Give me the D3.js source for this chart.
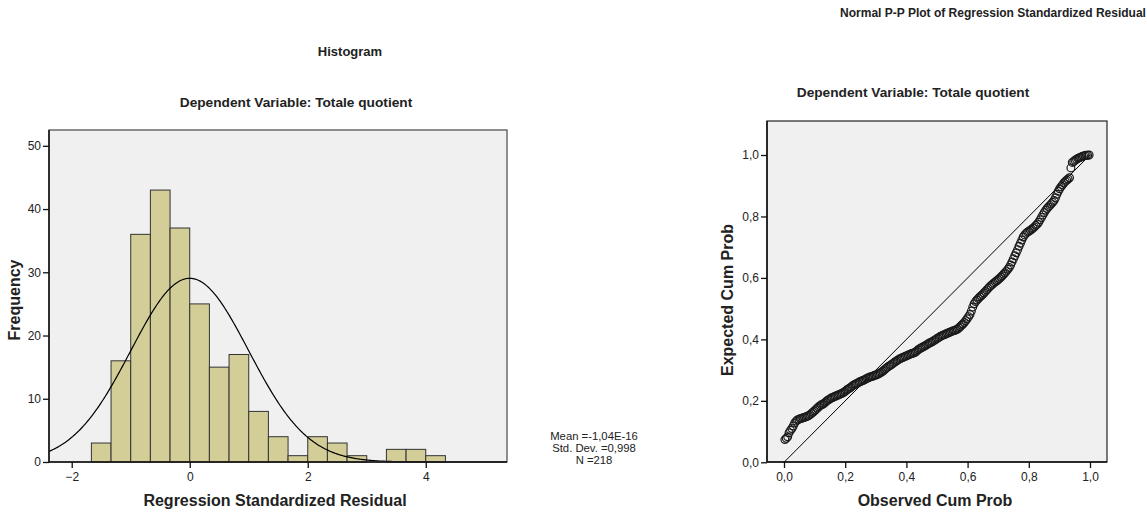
<!DOCTYPE html>
<html><head><meta charset="utf-8">
<script src="https://cdn.jsdelivr.net/npm/d3@7"></script>
<style>
body{margin:0;background:#fff;}
svg{display:block;font-family:"Liberation Sans",Arial,sans-serif;}
</style></head><body>
<svg id="c" width="1147" height="513"></svg>
<script>
// ---------- Histogram data ----------
const binEdgesStart = -5/3;          // first bin lower edge
const binWidth = 1/3;
const binCounts = [3,16,36,43,37,25,15,17,8,4,1,4,3,1,0,2,2,1];
const histXTicks = [-2,0,2,4];
const histYTicks = [0,10,20,30,40,50];
const statMean = -1.04e-16, statSD = 0.998, statN = 218;
const statLabels = ["Mean =-1,04E-16","Std. Dev. =0,998","N =218"];

// ---------- P-P plot data (expected cum prob, sorted by rank) ----------
const expectedCumProb = [
0.074,0.078,0.083,0.096,0.104,0.110,0.118,0.128,0.134,0.138,
0.140,0.142,0.143,0.145,0.146,0.148,0.150,0.152,0.155,0.159,
0.163,0.167,0.171,0.176,0.180,0.184,0.187,0.189,0.192,0.196,
0.200,0.203,0.206,0.209,0.211,0.213,0.215,0.217,0.219,0.221,
0.223,0.225,0.228,0.231,0.235,0.238,0.241,0.244,0.248,0.251,
0.254,0.256,0.258,0.261,0.263,0.265,0.267,0.269,0.272,0.274,
0.276,0.278,0.279,0.281,0.283,0.284,0.286,0.288,0.291,0.294,
0.297,0.301,0.305,0.309,0.312,0.315,0.318,0.321,0.325,0.328,
0.331,0.334,0.337,0.339,0.341,0.343,0.345,0.347,0.349,0.351,
0.353,0.355,0.356,0.358,0.362,0.366,0.369,0.372,0.374,0.377,
0.379,0.382,0.385,0.388,0.390,0.392,0.395,0.398,0.401,0.404,
0.407,0.410,0.412,0.414,0.416,0.418,0.420,0.422,0.424,0.426,
0.428,0.429,0.431,0.433,0.437,0.441,0.446,0.450,0.455,0.461,
0.467,0.474,0.481,0.492,0.505,0.516,0.523,0.528,0.533,0.538,
0.542,0.546,0.551,0.556,0.561,0.566,0.571,0.575,0.579,0.583,
0.587,0.590,0.594,0.598,0.602,0.607,0.612,0.617,0.622,0.628,
0.634,0.642,0.652,0.662,0.672,0.682,0.692,0.703,0.713,0.723,
0.733,0.740,0.745,0.749,0.752,0.755,0.758,0.762,0.766,0.771,
0.775,0.781,0.789,0.797,0.805,0.813,0.820,0.826,0.831,0.836,
0.841,0.846,0.852,0.861,0.872,0.882,0.890,0.897,0.903,0.909,
0.914,0.918,0.922,0.926,0.958,0.976,0.979,0.983,0.986,0.989,
0.991,0.993,0.995,0.997,0.998,0.999,0.999,1.000];
const ppTicks = [0,0.2,0.4,0.6,0.8,1.0];

const svg = d3.select("#c");
const bold = "bold";
const fmtComma = d => d3.format(".1f")(d).replace(".", ",");

// ================= HISTOGRAM =================
const H = {left:49, right:507, top:130, bottom:462};
const hx = d3.scaleLinear().domain([-2.385, 5.377]).range([H.left, H.right]);
const hy = d3.scaleLinear().domain([0, 52.5]).range([H.bottom, H.top]);

svg.append("rect").attr("x",H.left).attr("y",H.top)
  .attr("width",H.right-H.left).attr("height",H.bottom-H.top)
  .attr("fill","#f0f0f0");

const bins = binCounts.map((c,i)=>({x0:binEdgesStart+i*binWidth, x1:binEdgesStart+(i+1)*binWidth, c}));
svg.append("g").selectAll("rect").data(bins.filter(b=>b.c>0)).join("rect")
  .attr("x",d=>hx(d.x0)).attr("y",d=>hy(d.c))
  .attr("width",d=>hx(d.x1)-hx(d.x0)).attr("height",d=>hy(0)-hy(d.c))
  .attr("fill","#d3ce97").attr("stroke","#333").attr("stroke-width",1);

// fitted normal curve from stated mean / sd / N
const curveX = d3.range(-2.385, 5.377, 0.02);
const curve = d3.line()
  .x(d=>hx(d))
  .y(d=>hy(statN*binWidth*Math.exp(-0.5*((d-statMean)/statSD)**2)/(statSD*Math.sqrt(2*Math.PI))));
svg.append("path").attr("d",curve(curveX)).attr("fill","none").attr("stroke","#000").attr("stroke-width",1.2);

// frame
svg.append("rect").attr("x",H.left).attr("y",H.top)
  .attr("width",H.right-H.left).attr("height",H.bottom-H.top)
  .attr("fill","none").attr("stroke","#555").attr("stroke-width",1.3);
svg.append("line").attr("x1",H.left).attr("x2",H.right).attr("y1",H.bottom).attr("y2",H.bottom)
  .attr("stroke","#111").attr("stroke-width",1.5);
svg.append("line").attr("x1",H.left).attr("x2",H.left).attr("y1",H.top).attr("y2",H.bottom)
  .attr("stroke","#111").attr("stroke-width",1.5);

const hxAxis = svg.append("g").attr("transform",`translate(0,${H.bottom})`)
  .call(d3.axisBottom(hx).tickValues(histXTicks).tickSize(6).tickPadding(4).tickFormat(d3.format("d")));
const hyAxis = svg.append("g").attr("transform",`translate(${H.left},0)`)
  .call(d3.axisLeft(hy).tickValues(histYTicks).tickSize(6).tickPadding(2).tickFormat(d3.format("d")));
[hxAxis,hyAxis].forEach(a=>{
  a.select(".domain").remove();
  a.selectAll("line").attr("stroke","#111").attr("stroke-width",1.3);
  a.selectAll("text").attr("font-size",12).attr("fill","#222").attr("font-family","Liberation Sans, Arial");
});

svg.append("text").attr("x",350).attr("y",56).attr("text-anchor","middle")
  .attr("font-size",13).attr("font-weight",bold).attr("fill","#222").text("Histogram");
svg.append("text").attr("x",296).attr("y",107).attr("text-anchor","middle")
  .attr("font-size",13.7).attr("font-weight",bold).attr("fill","#222").text("Dependent Variable: Totale quotient");
svg.append("text").attr("x",275).attr("y",506).attr("text-anchor","middle")
  .attr("font-size",16).attr("font-weight",bold).attr("fill","#222").text("Regression Standardized Residual");
svg.append("text").attr("transform","translate(20,300) rotate(-90)").attr("text-anchor","middle")
  .attr("font-size",16).attr("font-weight",bold).attr("fill","#222").text("Frequency");
svg.append("g").selectAll("text").data(statLabels).join("text")
  .attr("x",594).attr("y",(d,i)=>440+i*12).attr("text-anchor","middle")
  .attr("font-size",11.3).attr("fill","#222").text(d=>d);

// ================= P-P PLOT =================
const P = {left:767, right:1107, top:121, bottom:462};
const px = d3.scaleLinear().domain([0,1]).range([784, 1090]);
const py = d3.scaleLinear().domain([0,1]).range([462.3, 155]);

svg.append("rect").attr("x",P.left).attr("y",P.top)
  .attr("width",P.right-P.left).attr("height",P.bottom-P.top)
  .attr("fill","#f0f0f0").attr("stroke","#222").attr("stroke-width",1.2);

svg.append("line").attr("x1",px(0)).attr("y1",py(0)).attr("x2",px(1)).attr("y2",py(1))
  .attr("stroke","#000").attr("stroke-width",1);

const n = expectedCumProb.length;
svg.append("g").selectAll("circle").data(expectedCumProb).join("circle")
  .attr("cx",(d,i)=>px((i+1-0.375)/(n+0.25))).attr("cy",d=>py(d)).attr("r",3.9)
  .attr("fill","none").attr("stroke","#1a1a1a").attr("stroke-width",1.2);

svg.append("line").attr("x1",P.left).attr("x2",P.right).attr("y1",P.bottom).attr("y2",P.bottom)
  .attr("stroke","#111").attr("stroke-width",1.5);
svg.append("line").attr("x1",P.left).attr("x2",P.left).attr("y1",P.top).attr("y2",P.bottom)
  .attr("stroke","#111").attr("stroke-width",1.5);

const pxAxis = svg.append("g").attr("transform",`translate(0,${P.bottom})`)
  .call(d3.axisBottom(px).tickValues(ppTicks).tickSize(6).tickPadding(4).tickFormat(fmtComma));
const pyAxis = svg.append("g").attr("transform",`translate(${P.left},0)`)
  .call(d3.axisLeft(py).tickValues(ppTicks).tickSize(6).tickPadding(2).tickFormat(fmtComma));
[pxAxis,pyAxis].forEach(a=>{
  a.select(".domain").remove();
  a.selectAll("line").attr("stroke","#111").attr("stroke-width",1.3);
  a.selectAll("text").attr("font-size",12).attr("fill","#222").attr("font-family","Liberation Sans, Arial");
});

svg.append("text").attr("x",993).attr("y",17).attr("text-anchor","middle")
  .attr("font-size",12).attr("font-weight",bold).attr("fill","#222").text("Normal P-P Plot of Regression Standardized Residual");
svg.append("text").attr("x",913).attr("y",97).attr("text-anchor","middle")
  .attr("font-size",13.7).attr("font-weight",bold).attr("fill","#222").text("Dependent Variable: Totale quotient");
svg.append("text").attr("x",935).attr("y",506).attr("text-anchor","middle")
  .attr("font-size",16).attr("font-weight",bold).attr("fill","#222").text("Observed Cum Prob");
svg.append("text").attr("transform","translate(733,300) rotate(-90)").attr("text-anchor","middle")
  .attr("font-size",16).attr("font-weight",bold).attr("fill","#222").text("Expected Cum Prob");
</script>
</body></html>
